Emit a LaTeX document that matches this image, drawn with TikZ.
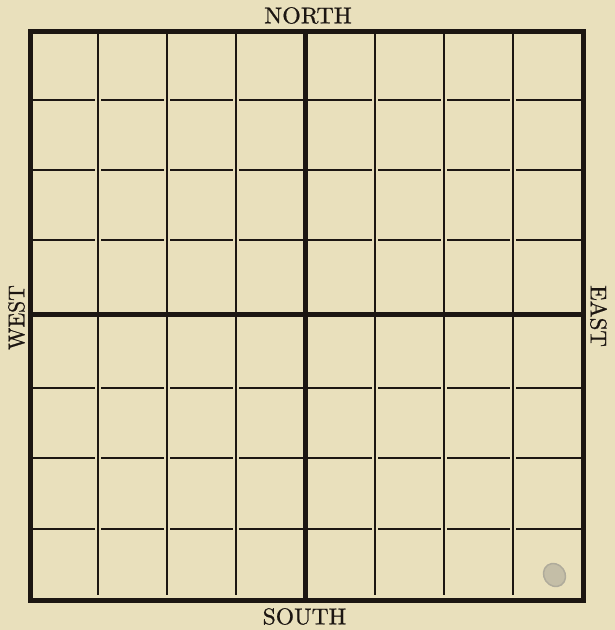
\documentclass[tikz,border=0pt]{standalone}
\usepackage{fontspec}
\newfontfamily\compassfont{lmroman10-regular.otf}[FakeBold=0.8]
\definecolor{paper}{RGB}{233,224,188}
\definecolor{ink}{RGB}{28,22,18}
\begin{document}
\begin{tikzpicture}[x=1pt,y=-1pt,
  thickline/.style={line width=5pt, draw=ink, line cap=rect},
  thinline/.style={line width=1.9pt, draw=ink},
  compass/.style={font=\compassfont\fontsize{22.8}{27}\selectfont, text=ink, inner sep=0pt}]
\fill[paper] (0,0) rectangle (615,630);
\useasboundingbox (0,0) rectangle (615,630);
% thin horizontal lines
\foreach \y in {100,170,240,388,458,529}
  \draw[thinline] (32,\y) -- (582,\y);
% gaps where thin horizontals meet thin verticals
\foreach \x in {98,167,236,375,444,513}
  \foreach \y in {100,170,240,388,458,529}
    \fill[paper] (\x-3.2,\y-1.5) rectangle (\x+3.2,\y+1.5);
% thin vertical lines
\foreach \x in {98,167,236,375,444,513}
  \draw[thinline] (\x,33) -- (\x,595);
% centre lines
\draw[thickline, line cap=butt] (305.5,31.5) -- (305.5,600);
\draw[thickline, line cap=butt] (30.5,314.5) -- (583.5,314.5);
% outer border
\draw[thickline, line cap=butt, line join=miter] (30.5,31.5) rectangle (583.5,600);
% smudge
\draw[gray!55!paper, line width=1.5pt, fill=gray!35!paper]
  (554.5,575) ellipse [x radius=10.5, y radius=12, rotate=35];
% labels
\node[compass, xscale=1.05] (north) at (308,15.5) {NORTH};
\node[compass, xscale=1.03] (south) at (304.5,616.5) {SOUTH};
\node[compass, rotate=90, xscale=0.95] (west) at (16.5,317.5) {WEST};
\node[compass, rotate=-90] (east) at (598.5,316) {EAST};
\end{tikzpicture}
\end{document}
